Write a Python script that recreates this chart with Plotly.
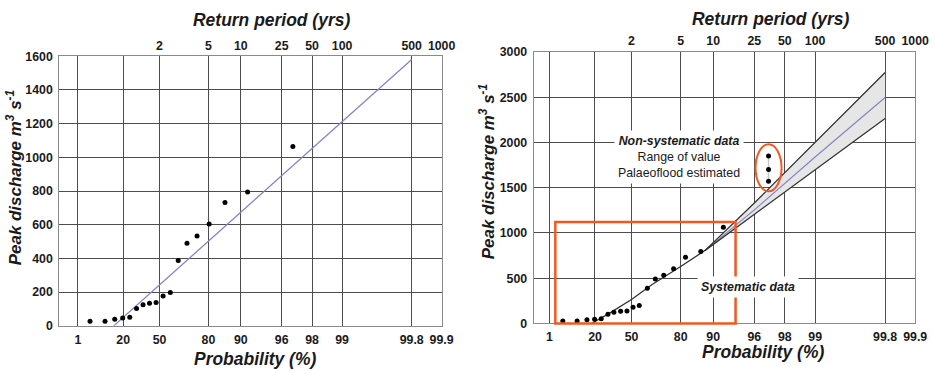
import numpy as np
import plotly.graph_objects as go

W, H = 935, 371

# ---------------- data ----------------
# Systematic data (probability of non-exceedance, %) and peak discharge (m3/s)
sys_prob_left = [3.1, 8.6, 14.1, 19.6, 25.1, 30.7, 36.2, 41.7, 47.2, 52.8,
                 58.3, 63.8, 69.3, 74.8, 80.3, 85.9, 91.4, 96.9]
sys_prob_right = [3.4, 8.8, 14.4, 19.7, 24.8, 30.3, 35.3, 41.0, 46.3, 51.2,
                  56.0, 61.8, 67.0, 71.9, 76.9, 81.9, 86.9, 92.0]
sys_q = [28, 28, 40, 47, 51, 103, 125, 134, 138, 178,
         198, 388, 491, 534, 605, 732, 795, 1064]

# Left panel: fitted Gumbel line
fit_prob = [13.4, 99.8]
fit_q = [0, 1580]

# Right panel: fitted curve (shared low part) and confidence band
low_prob = [17.4, 30, 50, 65, 80, 88]
low_q = [0, 100, 265, 430, 630, 805]
upper_prob = [88, 96, 99, 99.8]
upper_q = [805, 1330, 2003, 2773]
lower_prob = [88, 96, 99, 99.8]
lower_q = [805, 1208, 1700, 2264]
center_prob = [88, 96, 99, 99.8]
center_q = [805, 1255, 1840, 2496]

# Non-systematic (palaeoflood) data
nonsys_prob = [97.1, 97.1, 97.1]
nonsys_q = [1850, 1700, 1570]

# Systematic data box (probability %, discharge)
box_prob = [1.8, 93.9]
box_q = [0, 1120]

# Axis ticks
prob_ticks = [1, 20, 50, 80, 90, 96, 98, 99, 99.8, 99.9]
prob_labels = ["1", "20", "50", "80", "90", "96", "98", "99", "99.8", "99.9"]
rp_ticks = [2, 5, 10, 25, 50, 100, 500, 1000]
rp_labels = ["2", "5", "10", "25", "50", "100", "500", "1000"]
left_yticks = [0, 200, 400, 600, 800, 1000, 1200, 1400, 1600]
right_yticks = [0, 500, 1000, 1500, 2000, 2500, 3000]


def gx(p):
    p = np.asarray(p, dtype=float) / 100.0
    return -np.log(-np.log(p))


def rp_x(t):
    t = np.asarray(t, dtype=float)
    return -np.log(-np.log(1.0 - 1.0 / t))


# The page is photographed slightly scaled; map wanted picture pixels to layout pixels
SX, SY, OY = 0.983, 0.9625, 6.75
FS = 1.0 / 0.973


def lx(px):
    return px / SX


def ly(py):
    return (py - OY) / SY


FONT = "Liberation Sans, Arial, sans-serif"
GRID = "#4d4d4d"
BORDER = "#8a8a8a"
ORANGE = "#f05a22"
LAVENDER = "#8585c4"

xr_left = [-1.955, float(gx(99.9))]
xr_right = [-1.887, float(gx(99.9))]
yr_left = [0, 1600]
yr_right = [0, 3000]

fig = go.Figure()

# ---- left panel ----
fig.add_trace(go.Scatter(x=gx(fit_prob), y=fit_q, mode="lines",
                         line=dict(color=LAVENDER, width=1.3),
                         xaxis="x", yaxis="y", hoverinfo="skip"))
fig.add_trace(go.Scatter(x=gx(sys_prob_left), y=sys_q, mode="markers",
                         marker=dict(color="black", size=5),
                         xaxis="x", yaxis="y"))

# ---- right panel ----
band_x = np.concatenate([gx(upper_prob), gx(lower_prob)[::-1]])
band_y = list(upper_q) + list(lower_q)[::-1]
fig.add_trace(go.Scatter(x=band_x, y=band_y, mode="lines", fill="toself",
                         fillcolor="#e6e6e6", line=dict(width=0),
                         xaxis="x2", yaxis="y2", hoverinfo="skip"))
fig.add_trace(go.Scatter(x=gx(center_prob), y=center_q, mode="lines",
                         line=dict(color=LAVENDER, width=1.2),
                         xaxis="x2", yaxis="y2", hoverinfo="skip"))
fig.add_trace(go.Scatter(x=gx(low_prob + upper_prob[1:]), y=low_q + upper_q[1:],
                         mode="lines", line=dict(color="#333333", width=1.3),
                         xaxis="x2", yaxis="y2", hoverinfo="skip"))
fig.add_trace(go.Scatter(x=gx(lower_prob), y=lower_q,
                         mode="lines", line=dict(color="#333333", width=1.3),
                         xaxis="x2", yaxis="y2", hoverinfo="skip"))
fig.add_trace(go.Scatter(x=gx(sys_prob_right), y=sys_q, mode="markers",
                         marker=dict(color="black", size=5),
                         xaxis="x2", yaxis="y2"))
fig.add_trace(go.Scatter(x=gx(nonsys_prob), y=nonsys_q, mode="lines+markers",
                         line=dict(color="#c8c8c8", width=1.5),
                         marker=dict(color="black", size=5),
                         xaxis="x2", yaxis="y2"))

# invisible traces so the top (return period) axes get drawn
fig.add_trace(go.Scatter(x=rp_x(rp_ticks), y=[0] * len(rp_ticks), mode="markers",
                         marker=dict(size=1, opacity=0), xaxis="x3", yaxis="y",
                         hoverinfo="skip"))
fig.add_trace(go.Scatter(x=rp_x(rp_ticks), y=[0] * len(rp_ticks), mode="markers",
                         marker=dict(size=1, opacity=0), xaxis="x4", yaxis="y2",
                         hoverinfo="skip"))


def dom_x(a, b):
    return [lx(a) / W, lx(b) / W]


def dom_y(top, bottom):
    return [1 - ly(bottom) / H, 1 - ly(top) / H]


tickfont = dict(family=FONT, size=12 * FS, color="#1a1a1a", weight="bold")

common_x = dict(tickmode="array", tickvals=gx(prob_ticks), ticktext=prob_labels,
                showgrid=True, gridcolor=GRID, gridwidth=1.4, zeroline=False,
                showline=True, linecolor=BORDER, linewidth=1.3, mirror=True,
                ticks="", tickfont=tickfont, ticklabelstandoff=2)
common_y = dict(showgrid=True, gridcolor=GRID, gridwidth=1.4, zeroline=False,
                showline=True, linecolor=BORDER, linewidth=1.3, mirror=True,
                ticks="", tickfont=tickfont, ticklabelstandoff=3)
top_x = dict(tickmode="array", tickvals=rp_x(rp_ticks), ticktext=rp_labels,
             side="top", showgrid=False, zeroline=False, showline=False,
             ticks="", tickfont=tickfont, ticklabelstandoff=3)

fig.update_layout(
    width=W, height=H, margin=dict(l=0, r=0, t=0, b=0),
    paper_bgcolor="white", plot_bgcolor="white", showlegend=False,
    xaxis=dict(common_x, domain=dom_x(59.3, 440.7), range=xr_left, anchor="y"),
    yaxis=dict(common_y, domain=dom_y(56, 325.7), range=yr_left, anchor="x",
               tickvals=left_yticks),
    xaxis2=dict(common_x, domain=dom_x(532.7, 913.3), range=xr_right, anchor="y2"),
    yaxis2=dict(common_y, domain=dom_y(51.7, 323.3), range=yr_right, anchor="x2",
                tickvals=right_yticks),
    xaxis3=dict(top_x, overlaying="x", anchor="y", range=xr_left),
    xaxis4=dict(top_x, overlaying="x2", anchor="y2", range=xr_right),
)


def frac(v, r):
    return (v - r[0]) / (r[1] - r[0])


bx = gx(box_prob)
fig.add_shape(type="rect", xref="x2 domain", yref="y2 domain",
              x0=frac(bx[0], xr_right), x1=frac(bx[1], xr_right),
              y0=frac(box_q[0], yr_right), y1=frac(box_q[1], yr_right),
              line=dict(color=ORANGE, width=2.5), layer="above")
ex = float(gx(nonsys_prob)[0])
fig.add_shape(type="circle", xref="x2", yref="y2",
              x0=ex - 0.30, x1=ex + 0.30,
              y0=min(nonsys_q) - 110, y1=max(nonsys_q) + 130,
              line=dict(color=ORANGE, width=2), layer="above")


def ann(text, px, py, size=12, angle=0, bg=None, **kw):
    fig.add_annotation(text=text, x=lx(px) / W, y=1 - ly(py) / H,
                       xref="paper", yref="paper",
                       showarrow=False, textangle=angle, bgcolor=bg,
                       font=dict(family=FONT, size=size * FS, color="#1a1a1a"),
                       xanchor="center", yanchor="middle", **kw)


TITLE = "<b><i>Return period (yrs)</i></b>"
PROB = "<b><i>Probability (%)</i></b>"
YT = "<b><i>Peak discharge m<sup>3</sup> s<sup>-1</sup></i></b>"
ann(TITLE, 271, 20, size=17)
ann(TITLE, 769, 19, size=17)
ann(PROB, 254, 359, size=17)
ann(PROB, 761, 352, size=17)
ann(YT, 14, 178, size=16.5, angle=-90)
ann(YT, 486, 172, size=16.5, angle=-90)

ann("<b><i>Non-systematic data</i></b><br>Range of value<br>Palaeoflood estimated",
    678, 157, size=12, bg="white", borderpad=3)
ann("<b><i>Systematic data</i></b>", 746, 287, size=12, bg="white", borderpad=3)

fig.write_html("out.html")
